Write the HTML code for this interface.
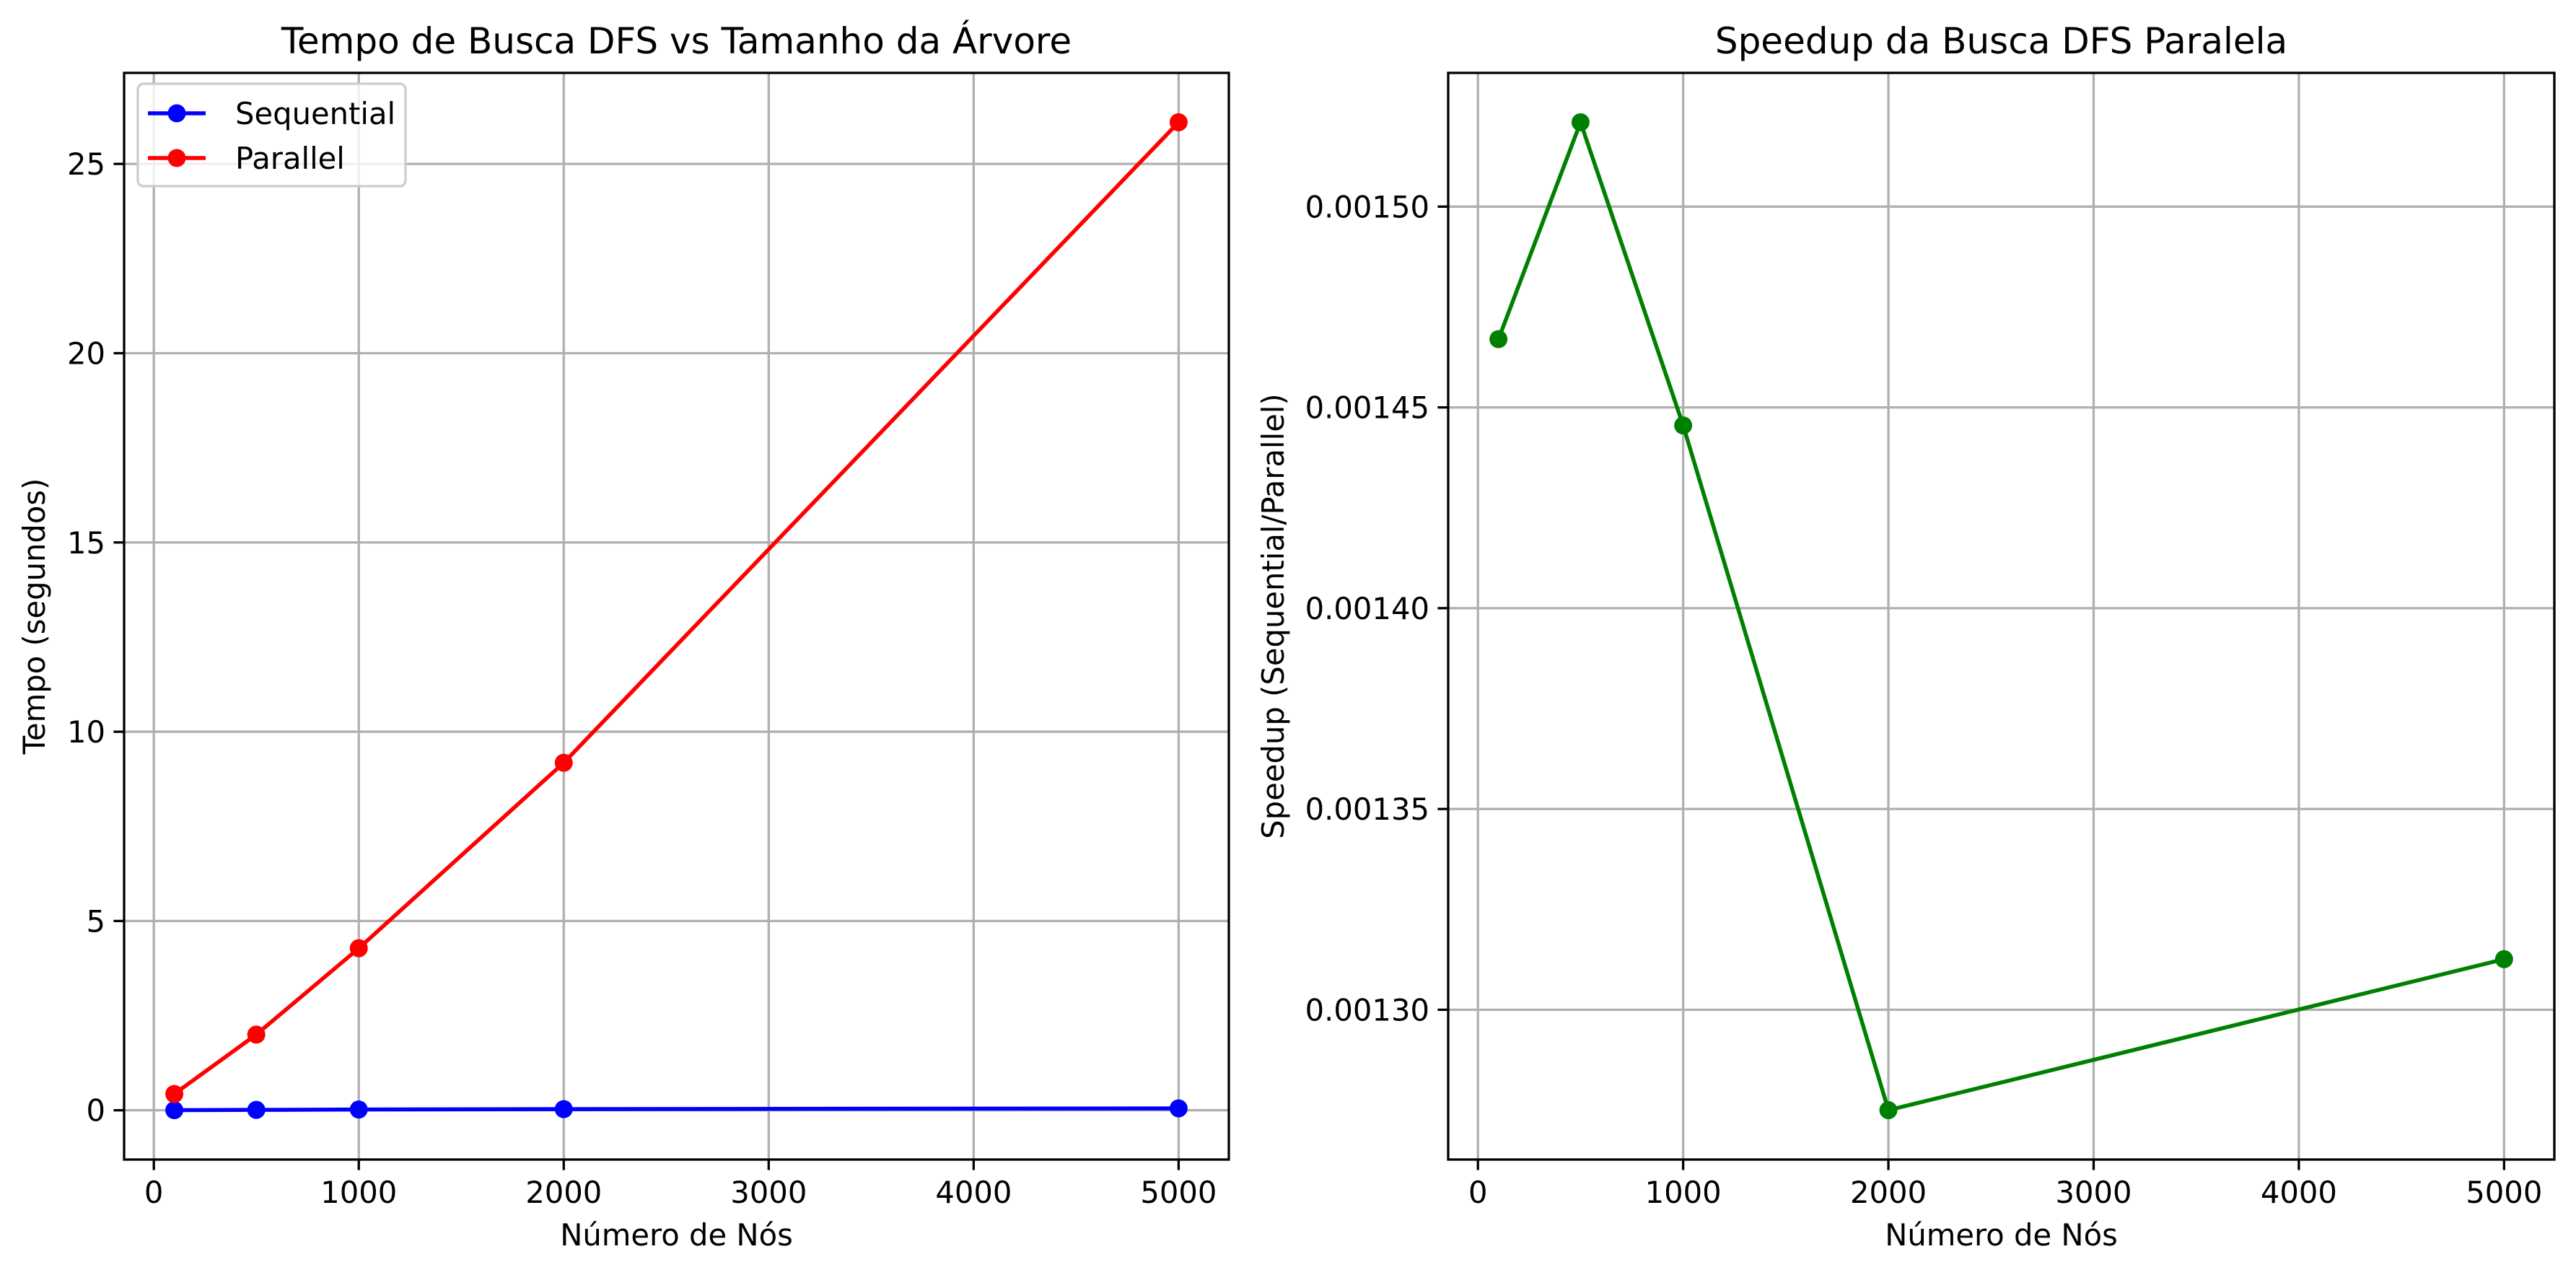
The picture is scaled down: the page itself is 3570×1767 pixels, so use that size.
<!DOCTYPE html>
<html><head><meta charset="utf-8"><style>
html,body{margin:0;padding:0;background:#fff}
svg{display:block;font-family:"DejaVu Sans","Liberation Sans",sans-serif}
</style></head><body>
<svg id="fig" width="3570" height="1767" viewBox="0 0 3570 1767" xmlns="http://www.w3.org/2000/svg"></svg>
<script>
const nodes = [100, 500, 1000, 2000, 5000];
const sequentialTimes = [0.003, 0.01, 0.02, 0.03, 0.05];
const parallelTimes = [0.43, 2.0, 4.28, 9.18, 26.1];
const speedups = [0.001467, 0.001521, 0.0014455, 0.001275, 0.0013126];
const xTicks = [0, 1000, 2000, 3000, 4000, 5000];
const leftYTicks = [0, 5, 10, 15, 20, 25];
const rightYTicks = [0.0013, 0.00135, 0.0014, 0.00145, 0.0015];
const rightYLabels = ["0.00130", "0.00135", "0.00140", "0.00145", "0.00150"];

const NS = "http://www.w3.org/2000/svg";
const svg = document.getElementById("fig");
function mk(tag, attrs, parent) {
  const e = document.createElementNS(NS, tag);
  for (const k in attrs) e.setAttribute(k, attrs[k]);
  (parent || svg).appendChild(e);
  return e;
}
function range(arr) {
  const mn = Math.min(...arr), mx = Math.max(...arr), m = (mx - mn) * 0.05;
  return [mn - m, mx + m];
}

function panel(name, box, xr, yr, yTicks, yLabels, title, yTitle, series) {
  const g = mk("g", {});
  
  
  const [L, T, R, B] = box;
  const sx = v => L + (v - xr[0]) / (xr[1] - xr[0]) * (R - L);
  const sy = v => B - (v - yr[0]) / (yr[1] - yr[0]) * (B - T);
  const grid = mk("g", {}, g);
  
  
  xTicks.forEach(t => {
    const x = sx(t);
    mk("line", {x1: x, x2: x, y1: T, y2: B, stroke: "#b0b0b0", "stroke-width": 3.3}, grid);
    const tk = mk("line", {x1: x, x2: x, y1: B, y2: B + 14.6, stroke: "#000", "stroke-width": 3.3}, g);
    
    
    const tx = mk("text", {x: x, y: B + 60, "font-size": 41.7, "text-anchor": "middle"}, g);
    tx.textContent = t;
    
    
  });
  yTicks.forEach((t, i) => {
    const y = sy(t);
    mk("line", {x1: L, x2: R, y1: y, y2: y, stroke: "#b0b0b0", "stroke-width": 3.3}, grid);
    const tk = mk("line", {x1: L - 14.6, x2: L, y1: y, y2: y, stroke: "#000", "stroke-width": 3.3}, g);
    
    
    const tx = mk("text", {x: L - 26, y: y + 15, "font-size": 41.7, "text-anchor": "end"}, g);
    tx.textContent = yLabels[i];
    
    
  });
  series.forEach(s => {
    const pts = s.xs.map((v, i) => sx(v) + "," + sy(s.ys[i])).join(" ");
    const pl = mk("polyline", {points: pts, fill: "none", stroke: s.color, "stroke-width": 5.5, "stroke-linejoin": "round"}, g);
    
    
    s.xs.forEach((v, i) => {
      const c = mk("circle", {cx: sx(v), cy: sy(s.ys[i]), r: 12.5, fill: s.color}, g);
      
      
    });
  });
  const fr = mk("rect", {x: L, y: T, width: R - L, height: B - T, fill: "none", stroke: "#000", "stroke-width": 3.3}, g);
  
  
  const tt = mk("text", {x: (L + R) / 2, y: 74, "font-size": 50, "text-anchor": "middle"}, g);
  tt.textContent = title;
  
  
  const xl = mk("text", {x: (L + R) / 2, y: 1726, "font-size": 41.7, "text-anchor": "middle"}, g);
  xl.textContent = "Número de Nós";
  
  
  const yx = name === "left-panel" ? 62 : 1779;
  const yl = mk("text", {x: yx, y: (T + B) / 2, "font-size": 41.7, "text-anchor": "middle", transform: `rotate(-90 ${yx} ${(T + B) / 2})`}, g);
  yl.textContent = yTitle;
  
  
  return g;
}

const xr = range(nodes);
const leftYR = range(sequentialTimes.concat(parallelTimes));
panel("left-panel", [172, 101, 1703, 1607], xr, leftYR, leftYTicks, leftYTicks.map(String),
  "Tempo de Busca DFS vs Tamanho da Árvore", "Tempo (segundos)",
  [{name: "sequential", xs: nodes, ys: sequentialTimes, color: "#0000ff"},
   {name: "parallel", xs: nodes, ys: parallelTimes, color: "#ff0000"}]);
panel("right-panel", [2007, 101, 3540, 1607], xr, range(speedups), rightYTicks, rightYLabels,
  "Speedup da Busca DFS Paralela", "Speedup (Sequential/Parallel)",
  [{name: "speedup", xs: nodes, ys: speedups, color: "#008000"}]);

// legend
const lg = mk("g", {});


mk("rect", {x: 191, y: 116, width: 371, height: 142, rx: 8, fill: "#fff", "fill-opacity": 0.8, stroke: "#cccccc", "stroke-width": 3.3}, lg);
[["Sequential", "#0000ff", 157], ["Parallel", "#ff0000", 219]].forEach(([lab, col, y]) => {
  const e = mk("g", {}, lg);
  
  
  mk("line", {x1: 205, x2: 285, y1: y, y2: y, stroke: col, "stroke-width": 5.5}, e);
  mk("circle", {cx: 245, cy: y, r: 12.5, fill: col}, e);
  const t = mk("text", {x: 326, y: y + 15, "font-size": 41.7}, e);
  t.textContent = lab;
});
</script>
</body></html>
